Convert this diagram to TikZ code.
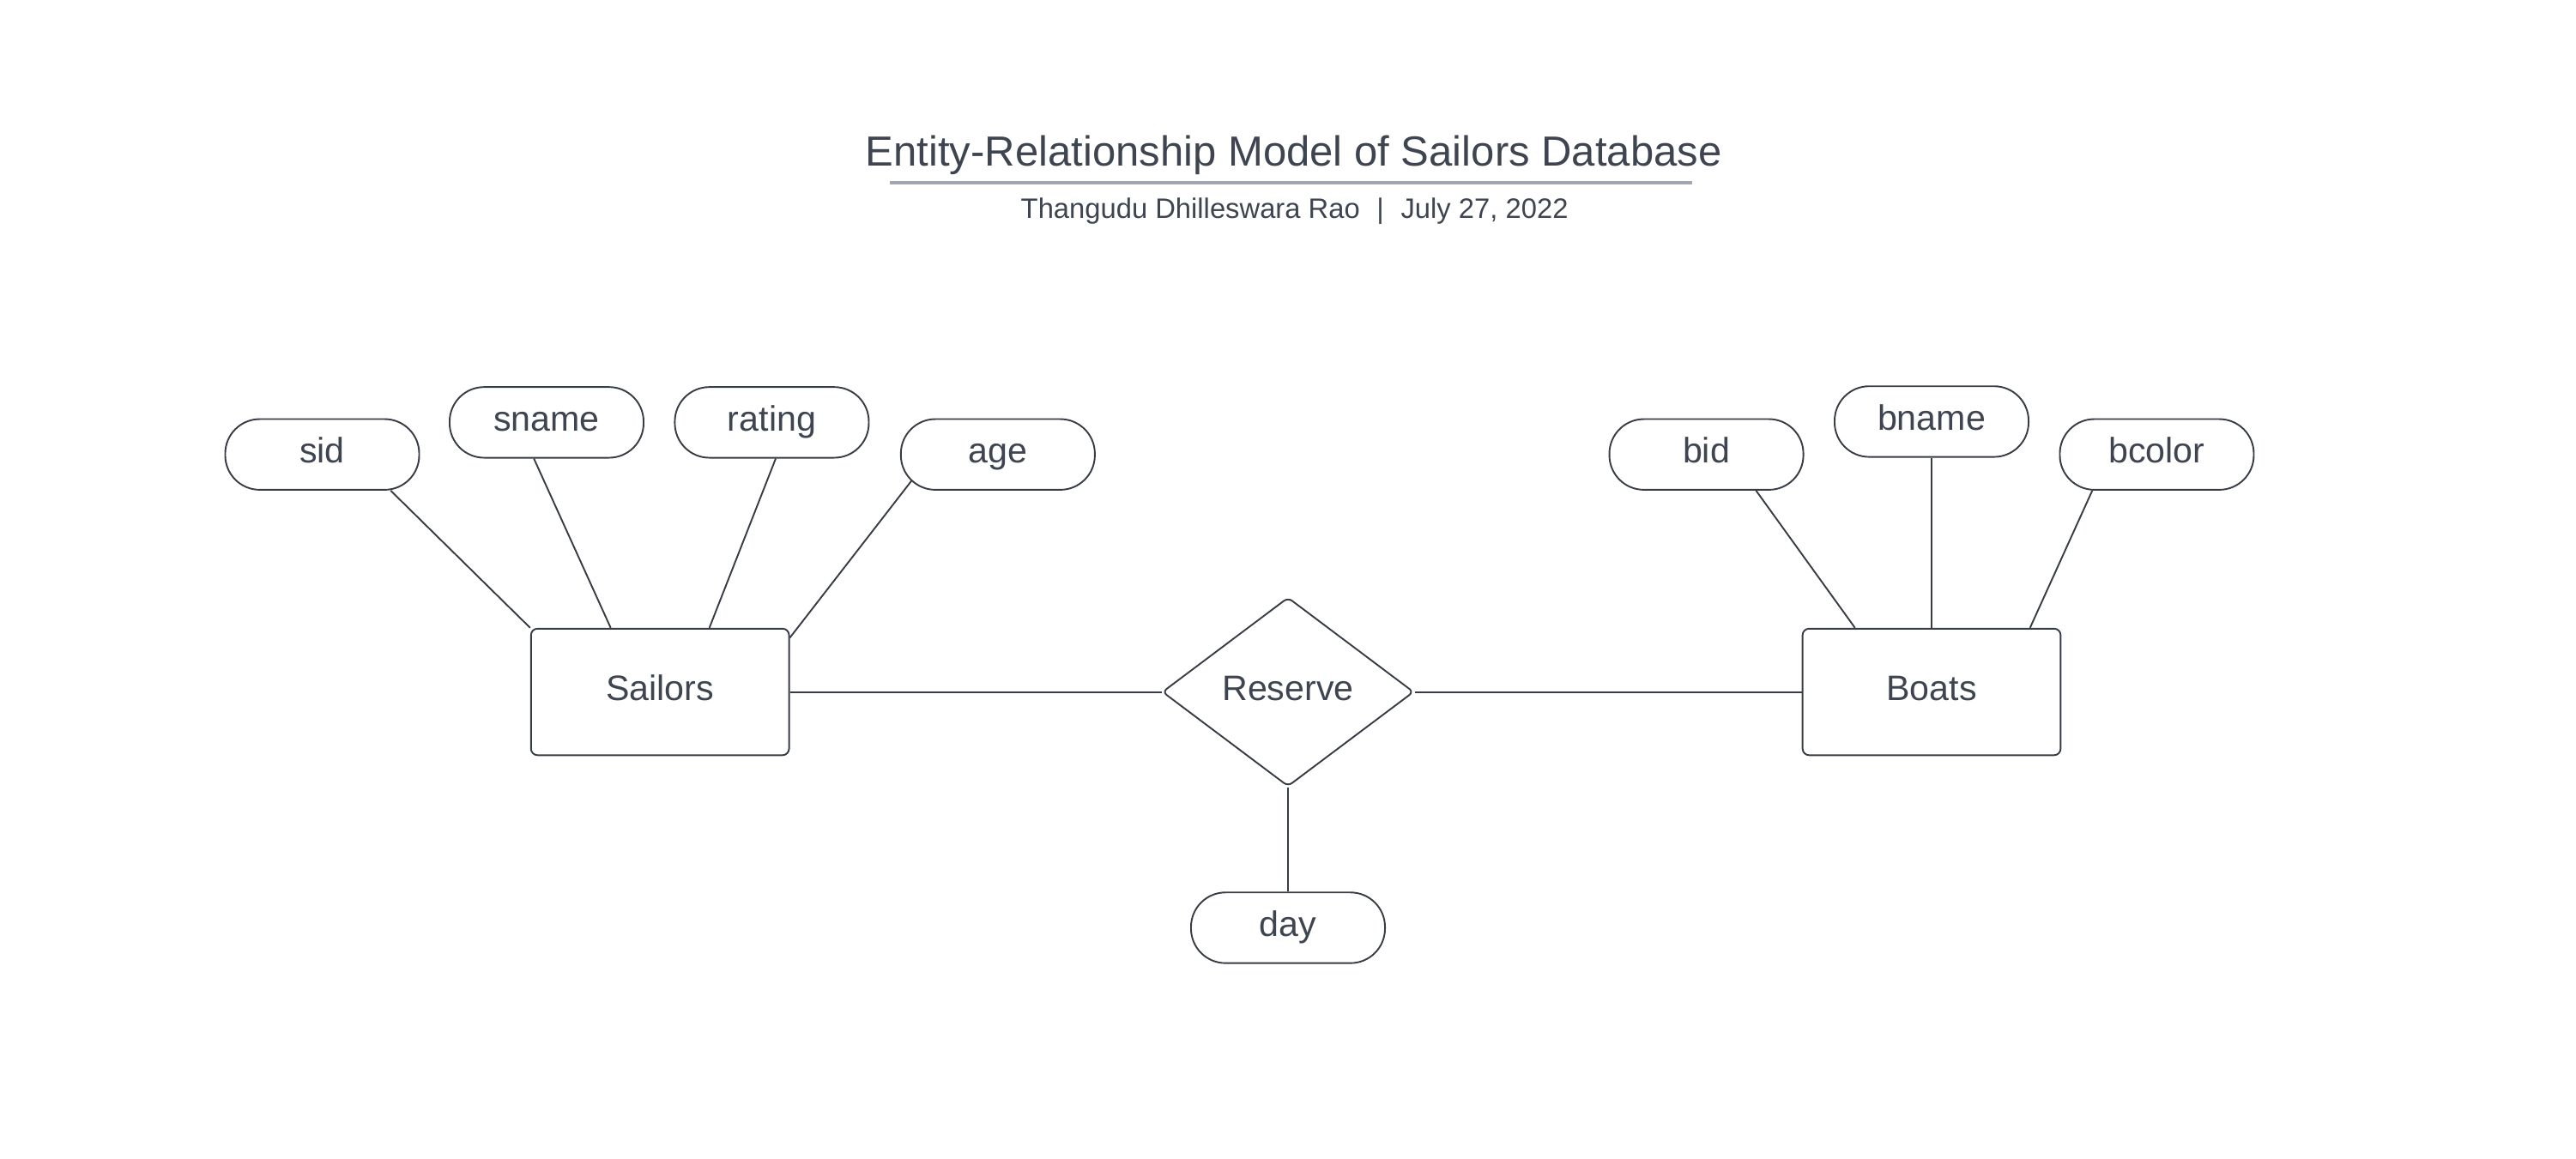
\documentclass[tikz,border=0pt]{standalone}
\usepackage{fontspec}
\setmainfont{Liberation Sans}
\usetikzlibrary{shapes.geometric,calc}
\definecolor{txt}{HTML}{3E4550}
\definecolor{ln}{HTML}{383D45}
\definecolor{ul}{HTML}{A0A7B0}
\begin{document}
\begin{tikzpicture}[x=1pt,y=-1pt,
  every node/.style={text=txt},
  lbl/.style={font=\fontsize{21.5}{26}\selectfont, text height=16.1pt, text depth=5.4pt, inner sep=0pt},
  attr/.style={lbl, draw=ln, line width=1pt, rounded corners=21pt, minimum width=118pt, minimum height=43pt},
  entity/.style={lbl, draw=ln, line width=1pt, rounded corners=4pt, minimum width=157pt, minimum height=77pt},
  rel/.style={lbl, draw=ln, line width=1pt, diamond, rounded corners=3pt, minimum width=153pt, minimum height=115pt},
  conn/.style={draw=ln, line width=1pt},
  uline/.style={draw=ul, line width=2.1pt}]
\useasboundingbox (0,0) rectangle (1567,704.7);

% title block
\node[anchor=base, font=\fontsize{25.6}{30}\selectfont, inner sep=0pt] (title) at (787,101) {Entity-Relationship Model of Sailors Database};
\draw[uline] ($(title.base west)+(15,10)$) -- ($(title.base east)+(-18,10)$);
\node[anchor=base, font=\fontsize{17.1}{20}\selectfont, inner sep=0pt] (sub) at (787.5,133) {Thangudu Dhilleswara Rao\hspace{0.6em}|\hspace{0.6em}July 27, 2022};

% entities and relationship
\node[entity] (sal) at (401.5,421) {Sailors};
\node[entity] (boats) at (1175,421) {Boats};
\node[rel] (res) at (783.5,421) {Reserve};

% attributes
\node[attr] (sid) at (196,276.5) {sid};
\node[attr] (sname) at (332.5,257) {sname};
\node[attr] (rating) at (469.5,257) {rating};
\node[attr] (age) at (607,276.5) {age};
\node[attr] (bid) at (1038,276.5) {bid};
\node[attr] (bname) at (1175,256.5) {bname};
\node[attr] (bcolor) at (1312,276.5) {bcolor};
\node[attr] (day) at (783.5,564.5) {day};

% connectors
\draw[conn] ($(sid.south west)!0.85!(sid.south east)$) -- (sal.north west);
\draw[conn] ($(sname.south west)!0.435!(sname.south east)$) -- ($(sal.north west)!0.31!(sal.north east)$);
\draw[conn] ($(rating.south west)!0.52!(rating.south east)$) -- ($(sal.north west)!0.69!(sal.north east)$);
\draw[conn] ([xshift=7pt,yshift=6pt]age.south west) -- ([yshift=-6pt]sal.north east);
\draw[conn] (sal.east) -- (res.west);
\draw[conn] (res.east) -- (boats.west);
\draw[conn] (res.south) -- (day.north);
\draw[conn] ($(bid.south west)!0.754!(bid.south east)$) -- ($(boats.north west)!0.205!(boats.north east)$);
\draw[conn] (bname.south) -- (boats.north);
\draw[conn] ($(bcolor.south west)!0.17!(bcolor.south east)$) -- ($(boats.north west)!0.879!(boats.north east)$);
\end{tikzpicture}
\end{document}
